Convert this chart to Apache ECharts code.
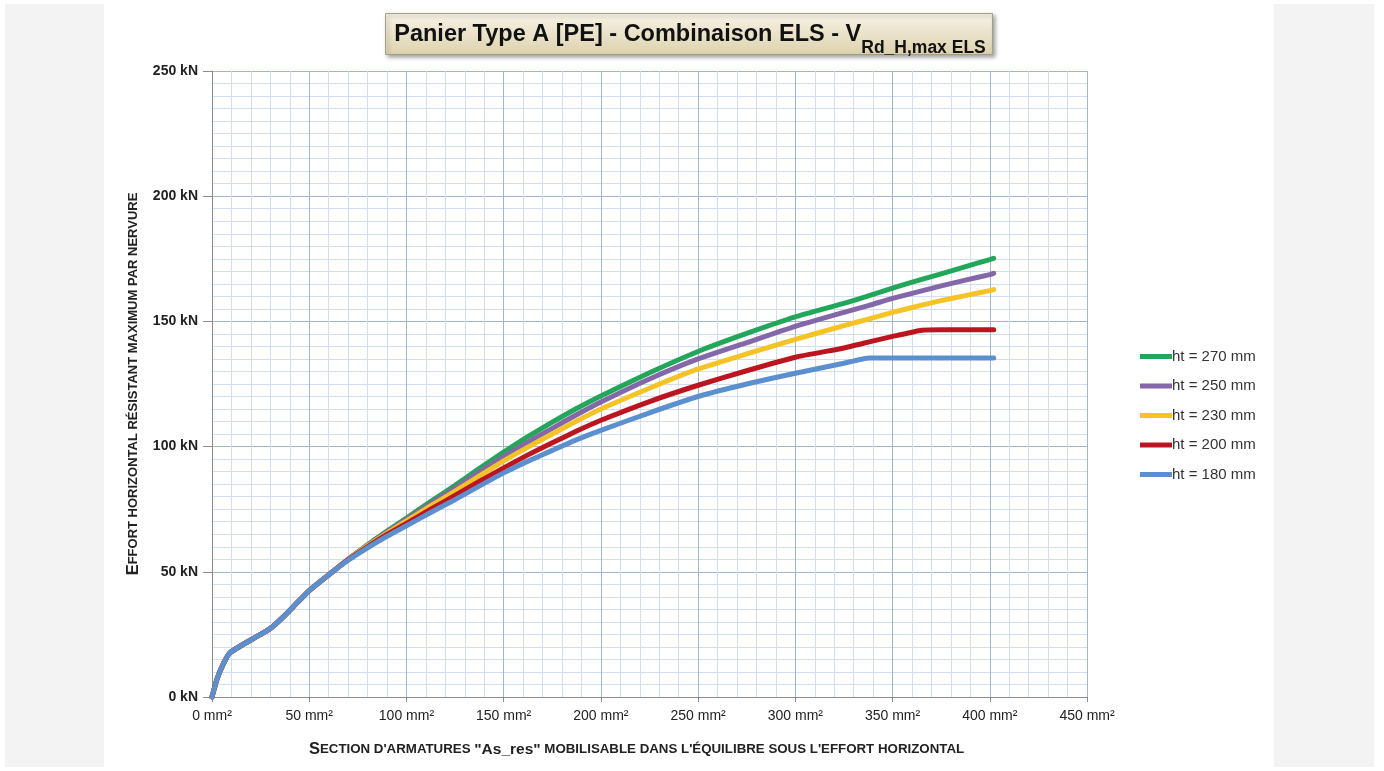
<!DOCTYPE html>
<html>
<head>
<meta charset="utf-8">
<script src="https://cdn.jsdelivr.net/npm/echarts@6/dist/echarts.min.js"></script>
<style>
html,body{margin:0;padding:0;background:#fff;}
#chart{width:1384px;height:771px;}
</style>
</head>
<body>
<div id="chart"></div>
<script>
// Section d'armatures (mm²)
const xs = [0, 2.5, 6, 9, 16, 25, 31, 36, 43, 50, 62, 70, 80, 90, 100, 112, 125, 137, 150, 162, 175, 187, 200, 225, 250, 275, 300, 325, 338, 350, 365, 375, 388, 400, 402];
// Effort (kN)
const common = [0, 7, 13.5, 17.5, 21, 25, 28, 31.5, 37, 42.5, 50];
const ht270 = common.concat([55, 60.8, 66.3, 71.5, 77.8, 84.5, 91, 97.8, 103.8, 109.8, 115, 120.2, 129.5, 138, 145.2, 151.8, 157.2, 160.3, 163.3, 166.8, 169, 172, 174.7, 175.2]);
const ht250 = common.concat([55, 60.6, 65.9, 70.9, 77, 83.4, 89.6, 96, 101.6, 107.3, 112.5, 117.8, 127, 135, 141.5, 148, 153.6, 156.4, 159.2, 162.2, 164.2, 166.6, 168.7, 169.2]);
const ht230 = common.concat([54.9, 60.4, 65.5, 70.3, 76.1, 82.2, 88, 94.3, 99.6, 105, 110, 115, 123.3, 131, 137, 142.8, 148.3, 151, 153.6, 156.5, 158.3, 160.4, 162.3, 162.7]);
const ht200 = common.concat([54.8, 60, 64.9, 69.3, 74.8, 80.5, 85.9, 91.5, 96.5, 101.5, 106, 110.5, 118, 124.5, 130.3, 135.7, 139.4, 141.8, 144, 146.5, 146.7, 146.7, 146.7, 146.7]);
const ht180 = common.concat([54.6, 59.6, 64.2, 68.4, 73.5, 78.8, 84, 89.5, 94, 98.5, 102.6, 106.5, 113.5, 120, 125, 129.3, 133.3, 135.4, 135.4, 135.4, 135.4, 135.4, 135.4, 135.4]);

const seriesNames = ['ht = 270 mm', 'ht = 250 mm', 'ht = 230 mm', 'ht = 200 mm', 'ht = 180 mm'];
const seriesValues = [ht270, ht250, ht230, ht200, ht180];
const seriesColors = ['#22a659', '#8467a8', '#f5c323', '#bd1520', '#5b8fd0'];

const xTicks = {min: 0, max: 450, interval: 50, unit: ' mm²'};
const yTicks = {min: 0, max: 250, interval: 50, unit: ' kN'};

const chart = echarts.init(document.getElementById('chart'));

const series = seriesNames.map((n, i) => ({
  name: n,
  type: 'line',
  showSymbol: false,
  smooth: 0.15,
  lineStyle: {width: 5, color: seriesColors[i], cap: 'round', join: 'round'},
  itemStyle: {color: seriesColors[i]},
  data: xs.map((x, j) => [x, seriesValues[i][j]])
}));

const capsFont = '"Liberation Sans", Arial, sans-serif';

chart.setOption({
  animation: false,
  backgroundColor: '#ffffff',
  graphic: [
    {type: 'rect', left: 5, top: 4, shape: {width: 99, height: 763}, style: {fill: '#f3f3f3'}, silent: true},
    {type: 'rect', left: 1274, top: 4, shape: {width: 100, height: 763}, style: {fill: '#f3f3f3'}, silent: true},
    {type: 'rect', left: 385, top: 13, z: -1,
      shape: {width: 607, height: 41},
      style: {
        fill: new echarts.graphic.LinearGradient(0, 0, 0, 1, [
          {offset: 0, color: '#f7f3e6'}, {offset: 1, color: '#ddd2ae'}]),
        stroke: '#a59f86', lineWidth: 1,
        shadowBlur: 4, shadowOffsetX: 2, shadowOffsetY: 2, shadowColor: 'rgba(0,0,0,0.35)'
      }, silent: true}
  ],
  title: {
    text: '{a|Panier Type A [PE] - Combinaison ELS - V}{s|Rd_H,max ELS}',
    left: 685, top: 12, textAlign: 'center',
    textStyle: {
      rich: {
        a: {fontFamily: '"Liberation Sans", sans-serif', fontWeight: 'bold', fontSize: 23.5, color: '#111', verticalAlign: 'bottom', lineHeight: 30},
        s: {fontFamily: '"Liberation Sans", sans-serif', fontWeight: 'bold', fontSize: 17.5, color: '#111', verticalAlign: 'bottom', lineHeight: 30, padding: [0, 0, -10, 0]}
      }
    }
  },
  legend: {
    orient: 'vertical',
    left: 1135, top: 343,
    icon: 'rect',
    itemWidth: 32, itemHeight: 5, itemGap: 12.5,
    data: seriesNames,
    textStyle: {fontFamily: '"Liberation Sans", sans-serif', fontSize: 15, color: '#333', lineHeight: 17, padding: [0,0,0,-5]}
  },
  grid: {left: 212, right: 297, top: 71, bottom: 74},
  xAxis: {
    type: 'value', min: xTicks.min, max: xTicks.max, interval: xTicks.interval,
    axisLine: {lineStyle: {color: '#8c8c8c', width: 1}},
    axisTick: {show: true, length: 5, lineStyle: {color: '#8c8c8c'}},
    axisLabel: {formatter: v => v + xTicks.unit, fontFamily: '"Liberation Sans", sans-serif', fontSize: 14, color: '#222', margin: 12},
    splitLine: {show: true, lineStyle: {color: '#9fb6cd', width: 1}},
    minorTick: {show: false, splitNumber: 5},
    minorSplitLine: {show: true, lineStyle: {color: '#d0deee', width: 1}},
    name: '{b|S}{s|ECTION D\'ARMATURES }{n|"As_res"}{s| MOBILISABLE DANS L\'ÉQUILIBRE SOUS L\'EFFORT HORIZONTAL}',
    nameLocation: 'middle', nameGap: 44,
    nameTextStyle: {
      padding: [0, 26, 0, 0],
      rich: {
        b: {fontFamily: capsFont, fontWeight: 'bold', fontSize: 16.5, color: '#222'},
        s: {fontFamily: capsFont, fontWeight: 'bold', fontSize: 13.3, color: '#222'},
        n: {fontFamily: capsFont, fontWeight: 'bold', fontSize: 15.5, color: '#222'}
      }
    }
  },
  yAxis: {
    type: 'value', min: yTicks.min, max: yTicks.max, interval: yTicks.interval,
    axisLine: {show: true, lineStyle: {color: '#8c8c8c', width: 1}},
    axisTick: {show: true, length: 9, lineStyle: {color: '#8c8c8c'}},
    axisLabel: {formatter: v => v + yTicks.unit, fontFamily: '"Liberation Sans", sans-serif', fontWeight: 'bold', fontSize: 14, color: '#222', margin: 14},
    splitLine: {show: true, lineStyle: {color: '#9fb6cd', width: 1}},
    minorTick: {show: false, splitNumber: 10},
    minorSplitLine: {show: true, lineStyle: {color: '#d0deee', width: 1}},
    name: '{b|E}{s|FFORT HORIZONTAL RÉSISTANT MAXIMUM PAR NERVURE}',
    nameLocation: 'middle', nameRotate: 90, nameGap: 66,
    nameTextStyle: {
      rich: {
        b: {fontFamily: capsFont, fontWeight: 'bold', fontSize: 16.5, color: '#222'},
        s: {fontFamily: capsFont, fontWeight: 'bold', fontSize: 13, color: '#222'}
      }
    }
  },
  series: series
});
</script>
</body>
</html>
